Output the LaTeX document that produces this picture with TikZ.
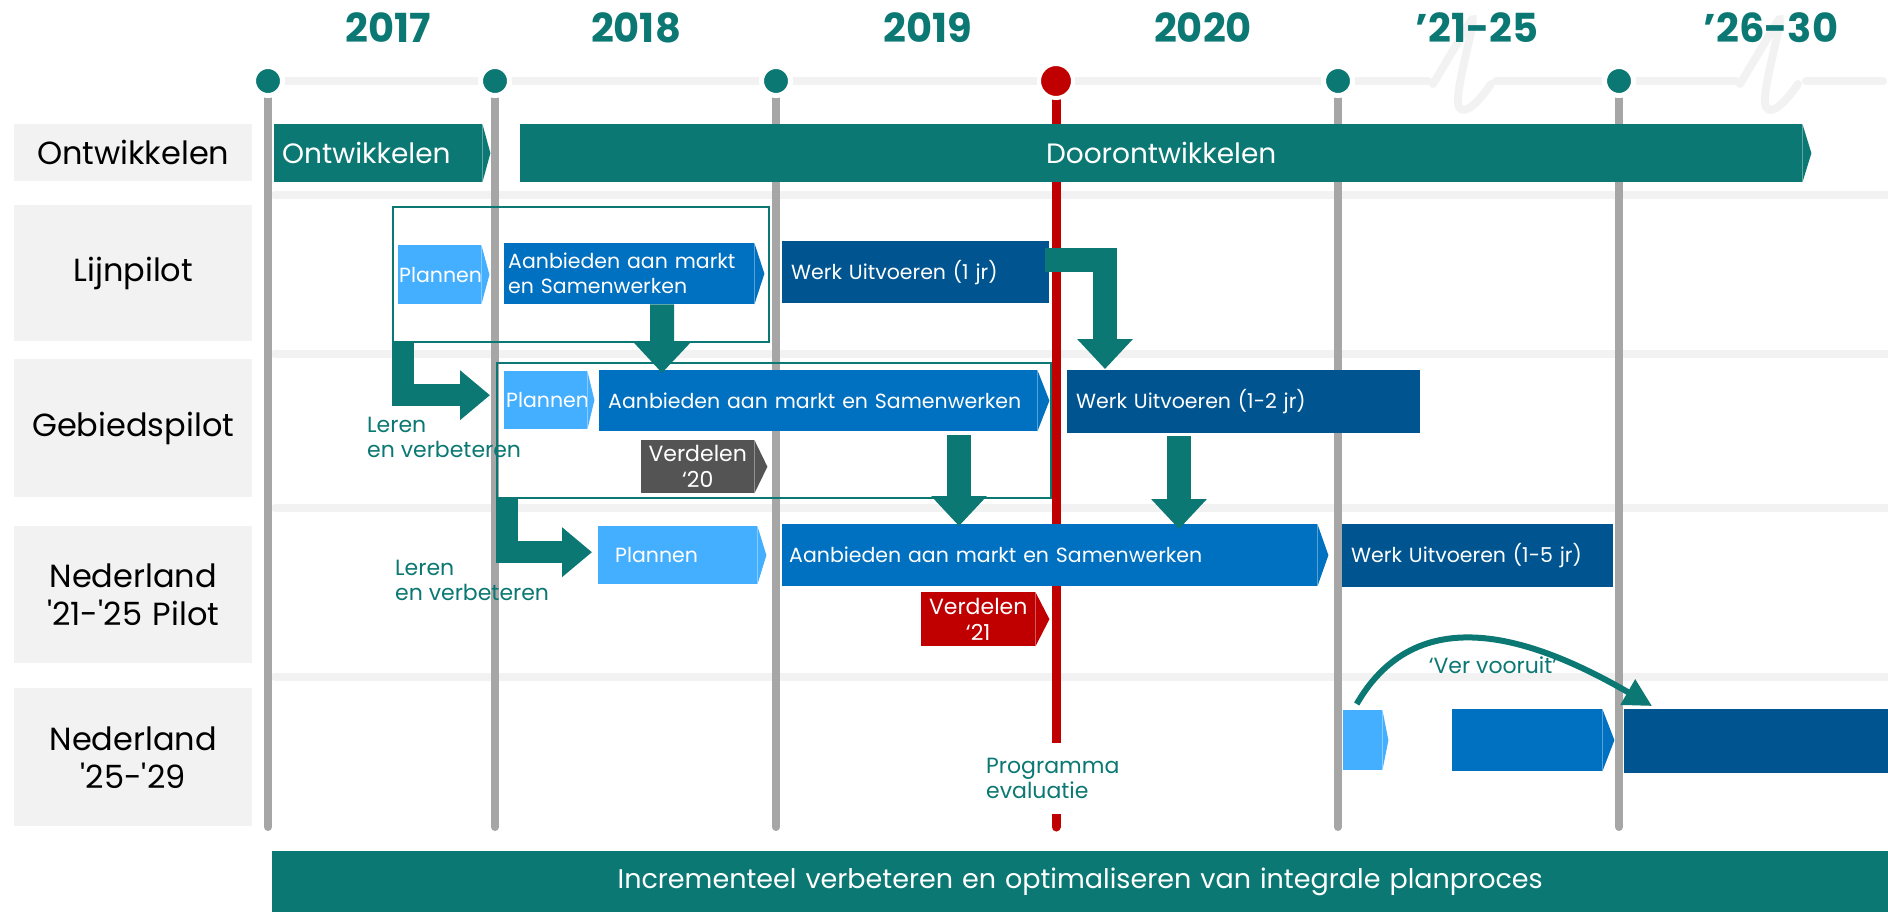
\documentclass[tikz,border=0pt]{standalone}
\usepackage{fontspec}
\setmainfont{Poppins}
\usetikzlibrary{arrows.meta}
\definecolor{tealc}{HTML}{0B7873}
\definecolor{lblue}{HTML}{45AFFF}
\definecolor{mblue}{HTML}{0070C0}
\definecolor{dblue}{HTML}{005591}
\definecolor{dgray}{HTML}{545454}
\definecolor{redc}{HTML}{C00000}
\definecolor{lgray}{HTML}{F2F2F2}
\definecolor{mgray}{HTML}{A6A6A6}

\begin{document}
\begin{tikzpicture}[x=1pt,y=-1pt,
tlbar/.style n args={3}{fill=#1,text width=#2pt,minimum height=#3pt,inner xsep=8pt,inner ysep=0pt,anchor=north west,align=left,text=white,font=\fontsize{20.5}{25}\selectfont},
tlabel/.style={text=tealc,align=left,inner sep=0pt,font=\fontsize{22}{25}\selectfont},
blockarrow/.style={draw=tealc,line width=24pt,line join=miter,-{Triangle[width=54pt,length=30pt]}},
curvarrow/.style={draw=tealc,line width=6pt,-{Triangle[width=28pt,length=28pt]}},
sepline/.style={draw=lgray,line width=8pt,line cap=round},
vline/.style={draw=mgray,line width=8pt,line cap=round}]
\useasboundingbox (0,0) rectangle (1888,912);

\foreach \y in {195,354,508,677} \draw[sepline] (275,\y) -- (1888,\y);
\draw[sepline] (286,81) -- (1428,81) (1496,81) -- (1736,81) (1806,81) -- (1883,81);
\foreach \s in {0,307} \draw[sepline,shift={(\s,0)}] (1433,84) -- (1470,22) .. controls (1482,2) and (1452,95) .. (1459,107) .. controls (1464,116) and (1478,103) .. (1491,84);

\foreach \x in {268,495,776,1338,1619} \draw[vline] (\x,95) -- (\x,827);
\draw[vline,draw=redc,line width=9pt] (1056,95) -- (1056,827);

\begin{scope}[every node/.style={circle,fill=tealc,draw=white,line width=5pt,minimum size=29pt,inner sep=0pt}]
\foreach \x [count=\i] in {268,495,776,1338,1619} \node (dot\i) at (\x,81) {};
\node[fill=redc,line width=4pt,minimum size=34pt] (dotred) at (1056,81) {};
\end{scope}

\begin{scope}[every node/.style={text=tealc,font=\fontsize{40}{44}\selectfont\bfseries}]
\foreach \yr/\x [count=\i] in {2017/388,2018/636,2019/928,2020/1203,'21-25/1477,'26-30/1771} \node (yr\i) at (\x,28) {\yr};
\end{scope}

\begin{scope}[every node/.style={fill=lgray,text width=238pt,inner sep=0pt,align=center,anchor=north west,font=\fontsize{32}{38}\selectfont}]
\node[minimum height=57pt] (row1) at (14,124) {Ontwikkelen};
\node[minimum height=136pt] (row2) at (14,205) {Lijnpilot};
\node[minimum height=138pt] (row3) at (14,359) {Gebiedspilot};
\node[minimum height=137pt] (row4) at (14,526) {Nederland\\\textquotesingle 21-\textquotesingle 25 Pilot};
\node[minimum height=138pt] (row5) at (14,688) {Nederland\\\textquotesingle 25-\textquotesingle 29};
\end{scope}

\begin{scope}[every node/.style={draw=tealc,line width=2pt,anchor=north west,inner sep=0pt}]
\node[minimum width=376pt,minimum height=135pt] (pilot1) at (392,206) {};
\node[minimum width=554pt,minimum height=135pt] (pilot2) at (496,362) {};
\end{scope}

\node[tlbar={tealc}{192}{58},font=\fontsize{28}{32}\selectfont] (ontw) at (274,124) {Ontwikkelen};
\node[tlbar={tealc}{1266}{58},align=center,font=\fontsize{28}{32}\selectfont] (door) at (520,124) {Doorontwikkelen};
\node[tlbar={lblue}{81}{59},inner xsep=1pt] (plan2) at (398,245) {Plannen};
\node[tlbar={mblue}{242}{61},inner xsep=4pt] (aan2) at (504,243) {Aanbieden aan markt\\en Samenwerken};
\node[tlbar={dblue}{249}{62},inner xsep=9pt] (werk2) at (782,241) {Werk Uitvoeren (1 jr)};
\node[tlbar={lblue}{79}{58},inner xsep=2pt] (plan3) at (504,371) {Plannen};
\node[tlbar={mblue}{420}{61},inner xsep=9pt] (aan3) at (599,370) {Aanbieden aan markt en Samenwerken};
\node[tlbar={dgray}{105}{53},inner xsep=4pt,align=center,font=\fontsize{22}{26}\selectfont] (verd20) at (641,440) {Verdelen\\`20};
\node[tlbar={dblue}{335}{63},inner xsep=9pt] (werk3) at (1067,370) {Werk Uitvoeren (1-2 jr)};
\node[tlbar={lblue}{125}{58},inner xsep=17pt] (plan4) at (598,526) {Plannen};
\node[tlbar={mblue}{521}{62},inner xsep=7pt] (aan4) at (782,524) {Aanbieden aan markt en Samenwerken};
\node[tlbar={dblue}{253}{63},inner xsep=9pt] (werk4) at (1342,524) {Werk Uitvoeren (1-5 jr)};
\node[tlbar={redc}{106}{54},inner xsep=4pt,align=center,font=\fontsize{22}{26}\selectfont] (verd21) at (921,592) {Verdelen\\`21};
\node[tlbar={lblue}{39}{60},inner xsep=0pt] (plan5) at (1343,710) {};
\node[tlbar={mblue}{150}{62},inner xsep=0pt] (aan5) at (1452,709) {};
\node[tlbar={dblue}{264}{64},inner xsep=0pt] (werk5) at (1624,709) {};
\node[tlbar={tealc}{1616}{61},inner xsep=0pt,align=center,font=\fontsize{27}{30}\selectfont] (proces) at (272,851) {Incrementeel verbeteren en optimaliseren van integrale planproces};

\foreach \n/\c/\t in {ontw/tealc/8,door/tealc/9,plan2/lblue/8,aan2/mblue/10,plan3/lblue/7,aan3/mblue/12,verd20/dgray/13,plan4/lblue/9,aan4/mblue/11,verd21/redc/14,plan5/lblue/6,aan5/mblue/12}
  \fill[\c] (\n.north east) -- ([shift={(\t,0)}]\n.east) -- (\n.south east) -- cycle;

\draw[blockarrow] ([shift={(33,0)}]aan2.south) -- ([shift={(63,3)}]aan3.north west);
\draw[blockarrow] ([shift={(360,4)}]aan3.south west) -- ([shift={(177,2)}]aan4.north west);
\draw[blockarrow] ([shift={(112,3)}]werk3.south west) -- ([shift={(397,5)}]aan4.north west);
\draw[blockarrow] ([shift={(-4,-12)}]werk2.east) -| ([shift={(38,-1)}]werk3.north west);
\draw[blockarrow,line width=22pt,-{Triangle[width=48pt,length=30pt]}] ([shift={(11,0)}]pilot1.south west) |- ([shift={(-14,-5)}]plan3.west);
\draw[blockarrow,line width=22pt,-{Triangle[width=48pt,length=30pt]}] ([shift={(11,0)}]pilot2.south west) |- ([shift={(-6,-3)}]plan4.west);
\draw[curvarrow] ([shift={(-6,-6)}]plan5.north) to[out=60,in=150,looseness=1.1] ([shift={(28,-3)}]werk5.north west);

\node[tlabel,anchor=west] (leren1) at (367,437) {Leren\\en verbeteren};
\node[tlabel,anchor=west] (leren2) at (395,580) {Leren\\en verbeteren};
\node[tlabel,anchor=west,fill=white,minimum height=71pt,inner xsep=4pt] (evaluatie) at (982,778) {Programma\\evaluatie};
\node[tlabel] (vooruit) at (1493,665) {`Ver vooruit'};
\end{tikzpicture}
\end{document}
